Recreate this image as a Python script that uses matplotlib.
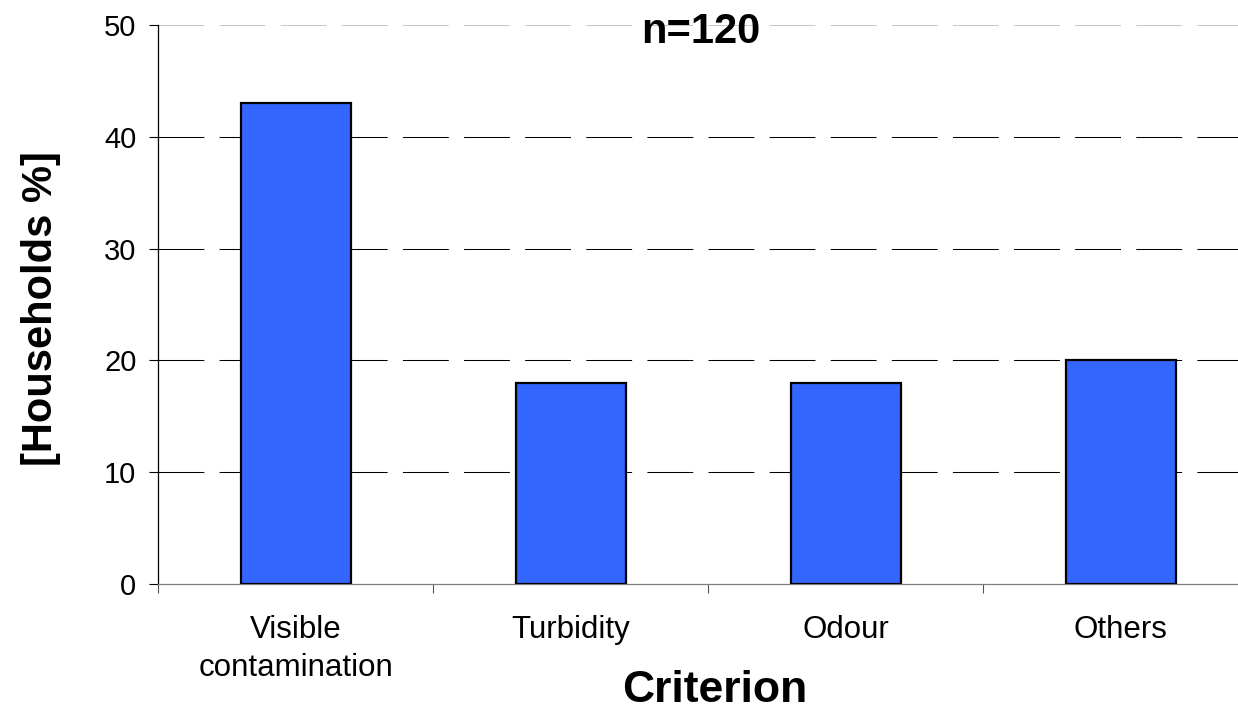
import matplotlib
matplotlib.use("Agg")
import matplotlib.pyplot as plt
import numpy as np

categories = ["Visible\ncontamination", "Turbidity", "Odour", "Others"]
households_pct = [43, 18, 18, 20]
y_ticks = [0, 10, 20, 30, 40, 50]
sample_note = "n=120"

plt.rcParams.update(
    {
        "font.family": ["Liberation Sans", "DejaVu Sans"],
        "lines.scale_dashes": False,
    }
)

W, H, DPI = 1238, 712, 100
fig = plt.figure(figsize=(W / DPI, H / DPI), dpi=DPI)
fig.patch.set_facecolor("white")

# axes run past the right edge, like the original export
left, right, top, bottom = 158, 1258, 25, 584
ax = fig.add_axes([left / W, (H - bottom) / H, (right - left) / W, (bottom - top) / H])

x = np.arange(len(categories))
ax.bar(x, households_pct, width=0.4, color="#3366FF", edgecolor="black",
       linewidth=1.6, zorder=3)

ax.set_xlim(-0.5, len(categories) - 0.5)
ax.set_ylim(y_ticks[0], y_ticks[-1])
ax.set_yticks(y_ticks)
ax.set_yticklabels([str(v) for v in y_ticks], fontsize=21)
ax.tick_params(axis="y", direction="out", length=6.5, width=0.8, color="black", pad=9)

ax.set_xticks(x)
ax.set_xticklabels(categories, fontsize=22.5, linespacing=1.38)
ax.tick_params(axis="x", which="major", length=0, pad=22)
ax.set_xticks(np.arange(-0.5, len(categories), 1.0), minor=True)
ax.tick_params(axis="x", which="minor", direction="out", length=6.5, width=0.8, color="#555555")

for side in ["top", "right"]:
    ax.spines[side].set_visible(False)
ax.spines["left"].set_color("black")
ax.spines["left"].set_linewidth(0.9)
ax.spines["bottom"].set_color("#808080")
ax.spines["bottom"].set_linewidth(0.9)

ax.yaxis.grid(True, color="black", linewidth=0.75, linestyle=(0, (33, 11)), zorder=0)
ax.set_axisbelow(True)
gridlines = ax.yaxis.get_gridlines()
gridlines[0].set_visible(False)
gridlines[-1].set_color("#C8C8C8")

ax.set_ylabel("[Households %]", fontsize=30, fontweight="bold")
ax.yaxis.set_label_coords(41 / W, 1 - 309 / H, transform=fig.transFigure)
ax.yaxis.label.set_va("center")
ax.set_xlabel("Criterion", fontsize=32, fontweight="bold")
ax.xaxis.set_label_coords(715 / W, 1 - 702 / H, transform=fig.transFigure)
ax.xaxis.label.set_va("baseline")

fig.text(701 / W, 1 - 32 / H, sample_note, fontsize=30, fontweight="bold",
         ha="center", va="center")

fig.savefig("out.png", dpi=DPI, facecolor="white")
